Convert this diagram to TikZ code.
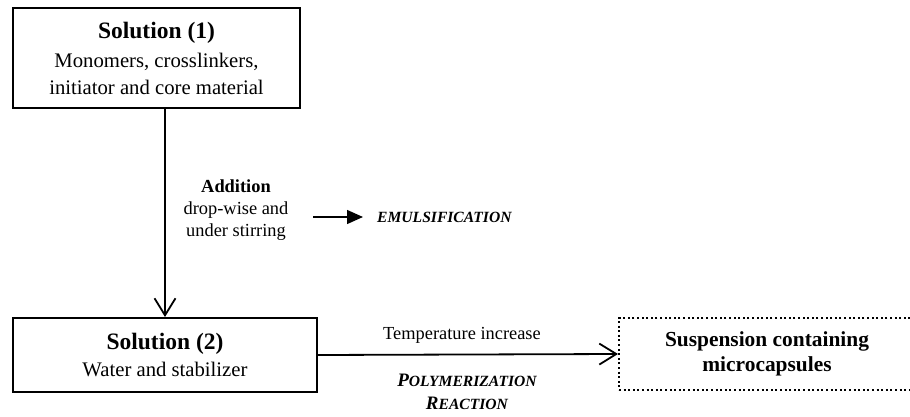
\documentclass[tikz,border=0pt]{standalone}
\usepackage{fontspec}
\setmainfont{Liberation Serif}
\usetikzlibrary{arrows.meta}
\newcommand{\bodyfont}{\fontsize{20.7}{27}\selectfont}
\newcommand{\titlefont}{\fontsize{23.5}{28}\selectfont\bfseries}
\newcommand{\midfont}{\fontsize{18.4}{22}\selectfont}
\newcommand{\smallcapsz}{\fontsize{15.6}{18}\selectfont}
\begin{document}
\begin{tikzpicture}[x=1pt,y=-1pt,
  solidbox/.style={draw, line width=2pt, inner sep=0pt, align=center, font=\bodyfont},
  dotbox/.style={draw, line width=2pt, dash pattern=on 2pt off 2.6pt, inner sep=0pt, align=center},
  labeltext/.style={inner sep=0pt, align=center, font=\midfont},
  bigarrow/.style={line width=1.8pt, -{Straight Barb[length=17pt,width=21pt,line width=1.8pt]}},
  smallarrow/.style={line width=1.4pt, -{Triangle[length=16pt,width=14pt]}}
]
\useasboundingbox (0,0) rectangle (910,417);

\node[solidbox, minimum width=287pt, minimum height=100pt] (b1) at (156.5,58)
  {{\titlefont Solution (1)}\\[2pt]Monomers, crosslinkers,\\initiator and core material};

\node[solidbox, minimum width=304pt, minimum height=74pt] (b2) at (165,355)
  {{\titlefont Solution (2)}\\Water and stabilizer};

\node[dotbox, minimum width=296pt, minimum height=72pt, font=\fontsize{21.4}{25}\selectfont\bfseries] (b3) at (767,354)
  {Suspension containing\\microcapsules};

\node[labeltext] (add) at (236,210) {{\bfseries Addition}\\drop-wise and\\under stirring};

\node[inner sep=0pt, anchor=west, font=\smallcapsz\bfseries\itshape] (emul) at (377,217) {EMULSIFICATION};
\coordinate (s1) at (313,217);
\coordinate (s2) at (363,217);

\node[labeltext] (temp) at (462,335) {Temperature increase};
\node[labeltext, font=\fontsize{19}{23}\selectfont\bfseries\itshape] (poly) at (467,392)
  {P{\smallcapsz OLYMERIZATION}\\R{\smallcapsz EACTION}};

\draw[bigarrow] (b2.north |- b1.south) -- (b2.north);
\draw[bigarrow] (b2.east) -- (b3.west);
\draw[smallarrow] (s1) -- (s2);
\end{tikzpicture}
\end{document}
